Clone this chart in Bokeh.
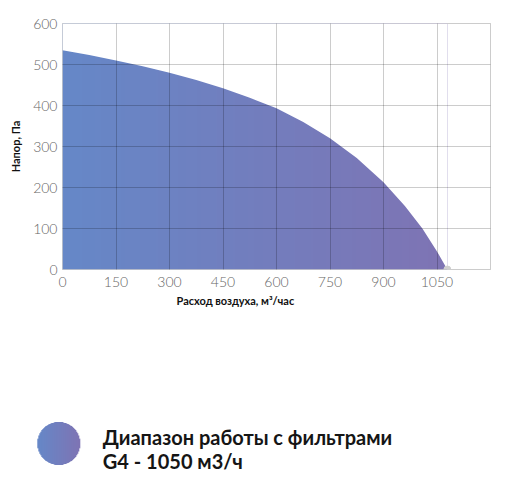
import numpy as np
from bokeh.plotting import figure
from bokeh.models import Range1d, FixedTicker, Title
from bokeh.layouts import column
from bokeh.core.properties import value
from bokeh.embed import file_html
from bokeh.resources import INLINE

# ---- data ----
flow = [0, 75, 150, 225, 300, 375, 450, 525, 600, 675, 750, 825, 900, 960, 1009, 1050, 1079]
pressure = [535, 523, 510, 496, 480, 462, 442, 419, 393, 360, 320, 272, 213, 155, 100, 44, 0]
x_ticks = [0, 150, 300, 450, 600, 750, 900, 1050]
y_ticks = [0, 100, 200, 300, 400, 500, 600]
x_max = 1200
y_max = 600
x_label = "Расход воздуха, м³/час"
y_label = "Напор, Па"
legend_lines = ["Диапазон работы с фильтрами", "G4 - 1050 м3/ч"]

# ---- styles ----
C_START = (0x66, 0x88, 0xC8)
C_END = (0x7F, 0x74, 0xB4)
FONT = "Lato"


def gradient_rgba(nx, ny, mask=None):
    img = np.zeros((ny, nx), dtype=np.uint32)
    view = img.view(dtype=np.uint8).reshape((ny, nx, 4))
    t = np.linspace(0, 1, nx)[None, :]
    for k in range(3):
        view[:, :, k] = (C_START[k] + (C_END[k] - C_START[k]) * t).astype(np.uint8)
    if mask is None:
        view[:, :, 3] = 255
    else:
        view[:, :, 3] = (np.clip(mask, 0, 1) * 255).astype(np.uint8)
    return img


W = 522
H1 = 318
p = figure(width=W, height=H1, output_backend="svg", toolbar_location=None,
           x_range=Range1d(0, x_max), y_range=Range1d(0, y_max),
           min_border_left=62, min_border_right=32, min_border_top=23,
           min_border_bottom=49)
p.frame_align = False

# gradient fill under the curve: gradient image + white mask above the curve
p.image_rgba(image=[gradient_rgba(256, 2)], x=flow[0], y=0,
             dw=flow[-1] - flow[0], dh=y_max)
p.varea(x=flow, y1=pressure, y2=[y_max] * len(flow), fill_color="white")
p.scatter(x=[flow[-1]], y=[pressure[-1]], size=7, color="#cfcfcf")

for g in (p.xgrid, p.ygrid):
    g.level = "annotation"
    g.grid_line_color = "black"
    g.grid_line_alpha = 0.2
    g.grid_line_width = 1
p.xgrid.ticker = FixedTicker(ticks=x_ticks + [x_max])
p.ygrid.ticker = FixedTicker(ticks=y_ticks)
p.outline_line_color = "black"
p.outline_line_alpha = 0.2

for ax in (p.xaxis[0], p.yaxis[0]):
    ax.axis_line_color = None
    ax.major_tick_line_color = None
    ax.minor_tick_line_color = None
    ax.major_tick_out = 0
    ax.major_tick_in = 0
    ax.minor_tick_out = 0
    ax.major_label_text_font = "Lato Light"
    ax.major_label_text_font_size = "14px"
    ax.major_label_text_color = "#666666"
    ax.major_label_standoff = 5
p.xaxis.ticker = FixedTicker(ticks=x_ticks)
p.yaxis.ticker = FixedTicker(ticks=y_ticks)
p.xaxis.major_label_standoff = 7
p.yaxis.axis_label = y_label
p.yaxis.axis_label_text_font = FONT
p.yaxis.axis_label_text_font_style = "bold"
p.yaxis.axis_label_text_font_size = "11px"
p.yaxis.axis_label_text_color = "#111111"
p.yaxis.axis_label_standoff = 8

xt = Title(text=x_label, align="left", offset=114, text_font=FONT,
           text_font_style="bold", text_font_size="11px", text_color="#111111",
           standoff=5)
p.add_layout(xt, "below")

# ---- legend ----
H2 = 491 - H1
lg = figure(width=W, height=H2, output_backend="svg", toolbar_location=None,
            x_range=Range1d(0, W), y_range=Range1d(0, H2), min_border=0,
            x_axis_location=None, y_axis_location=None)
lg.frame_align = False
lg.grid.visible = False
lg.outline_line_color = None

r = 21.5
cx, cy = 58.3, 48.0
n = 128
yy, xx = np.mgrid[0:n, 0:n]
d = np.hypot((xx + 0.5) / n * 2 - 1, (yy + 0.5) / n * 2 - 1)
mask = (1 - d) * n / 2 + 0.5
lg.image_rgba(image=[gradient_rgba(n, n, mask)], x=cx - r, y=cy - r, dw=2 * r, dh=2 * r)
lg.text(x=[102.3, 102.3], y=[55.0, 30.5], text=legend_lines, text_font=value(FONT),
        text_font_style="bold", text_font_size="20px", text_color="#151515",
        text_baseline="alphabetic", text_align="left")

layout = column(p, lg, spacing=0)
open("out.html", "w").write(file_html(layout, INLINE))
